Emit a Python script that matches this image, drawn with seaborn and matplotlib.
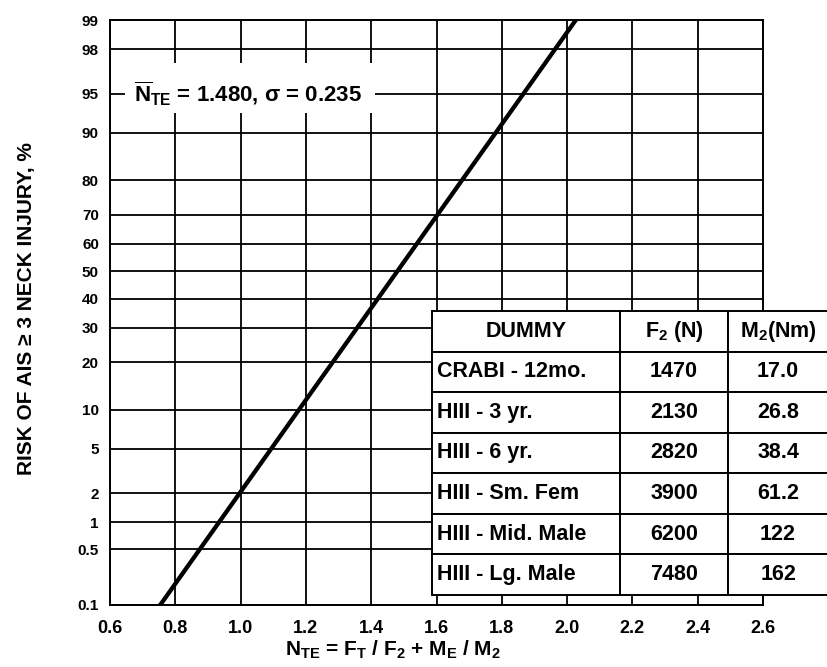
from statistics import NormalDist

import matplotlib
matplotlib.use("Agg")
import matplotlib.pyplot as plt
import matplotlib.patches as mpatches
import numpy as np
import pandas as pd
import seaborn as sns

# Normal risk model for the neck injury criterion
nte_mean = 1.480
nte_sigma = 0.235

x_ticks = [0.6, 0.8, 1.0, 1.2, 1.4, 1.6, 1.8, 2.0, 2.2, 2.4, 2.6]
x_tick_labels = ["0.6", "0.8", "1.0", "1.2", "1.4", "1.6", "1.8", "2.0", "2.2", "2.4", "2.6"]
risk_ticks = [0.1, 0.5, 1, 2, 5, 10, 20, 30, 40, 50, 60, 70, 80, 90, 95, 98, 99]
risk_tick_labels = ["0.1", "0.5", "1", "2", "5", "10", "20", "30", "40", "50",
                    "60", "70", "80", "90", "95", "98", "99"]

# Critical intercept values per dummy
dummies = ["CRABI - 12mo.", "HIII - 3 yr.", "HIII - 6 yr.", "HIII - Sm. Fem",
           "HIII - Mid. Male", "HIII - Lg. Male"]
f2_newton = ["1470", "2130", "2820", "3900", "6200", "7480"]
m2_newton_m = ["17.0", "26.8", "38.4", "61.2", "122", "162"]
table_headers = ["DUMMY", r"$\mathrm{F_2}$ (N)", r"$\mathrm{M_2}$(Nm)"]

sns.set_theme(style="white")
plt.rcParams["font.family"] = ["Liberation Sans", "DejaVu Sans"]
plt.rcParams["font.weight"] = "bold"
plt.rcParams["mathtext.fontset"] = "custom"
for key in ("rm", "it", "bf", "sf"):
    plt.rcParams[f"mathtext.{key}"] = "Liberation Sans:bold"

_std_normal = NormalDist()
_ppf = np.vectorize(_std_normal.inv_cdf, otypes=[float])
_cdf = np.vectorize(_std_normal.cdf, otypes=[float])


def probit(p):
    p = np.clip(np.asarray(p, dtype=float) / 100.0, 1e-12, 1 - 1e-12)
    return _ppf(p)


def inv_probit(z):
    return 100.0 * _cdf(np.asarray(z, dtype=float))


risk_model = NormalDist(nte_mean, nte_sigma)
nte = np.linspace(0.6, 2.6, 81)
curve = pd.DataFrame({"nte": nte, "risk": [100.0 * risk_model.cdf(v) for v in nte]})

fig = plt.figure(figsize=(8.28, 6.67), dpi=100)
ax = fig.add_axes([110 / 828, 1 - 605 / 667, 653 / 828, 585 / 667])
ax.set_yscale("function", functions=(probit, inv_probit))

sns.lineplot(data=curve, x="nte", y="risk", ax=ax, color="black", lw=3.1, zorder=4)

ax.set_xlim(0.6, 2.6)
ax.set_ylim(0.1, 99)
ax.set_xticks(x_ticks)
ax.set_xticklabels(x_tick_labels, fontsize=13, fontweight="bold")
ax.set_yticks(risk_ticks)
ax.set_yticklabels(risk_tick_labels, fontsize=11, fontweight="bold")
ax.minorticks_off()
ax.tick_params(axis="x", length=0, pad=11, colors="black")
ax.tick_params(axis="y", length=0, pad=8, colors="black")
ax.set_axisbelow(True)
ax.grid(True, color="black", lw=1.3)
for spine in ax.spines.values():
    spine.set_color("black")
    spine.set_linewidth(1.4)

ax.set_ylabel("RISK OF AIS \u2265 3 NECK INJURY, %", fontsize=15, fontweight="bold", color="black")
ax.yaxis.set_label_coords(-0.113, 0.506)
ax.set_xlabel(r"$\mathrm{N_{TE}}$ = $\mathrm{F_T}$ / $\mathrm{F_2}$ + $\mathrm{M_E}$ / $\mathrm{M_2}$",
              fontsize=15, fontweight="bold", color="black")
ax.xaxis.set_label_coords(0.433, -0.058)

# Parameter annotation on a white patch over the grid
ax.add_patch(mpatches.Rectangle((0.023, 0.841), 0.383, 0.086, transform=ax.transAxes,
                                facecolor="white", edgecolor="none", zorder=3))
ax.text(0.036, 95, r"$\overline{\mathrm{N}}_{\mathrm{TE}}$ = 1.480, " + "\u03c3 = 0.235",
        transform=ax.get_yaxis_transform(), ha="left", va="center",
        fontsize=16, fontweight="bold", color="black", zorder=4)

# Table of dummy-specific critical values
rows = [list(r) for r in zip(dummies, f2_newton, m2_newton_m)]
tbl = ax.table(cellText=rows, colLabels=table_headers, cellLoc="center",
               colWidths=[0.475, 0.273, 0.252],
               bbox=[0.493, 0.0171, 0.6065, 0.4855], zorder=6)
tbl.auto_set_font_size(False)
tbl.set_fontsize(15.5)
for (r, c), cell in tbl.get_celld().items():
    cell.set_facecolor("white")
    cell.set_edgecolor("black")
    cell.set_linewidth(1.4)
    cell.set_clip_on(False)
    cell.get_text().set_fontweight("bold")
    cell.get_text().set_color("black")
    if c == 0 and r > 0:
        cell.get_text().set_ha("left")
        cell._loc = "left"
        cell.PAD = 0.025
tbl.set_clip_on(False)

fig.savefig("out.png", dpi=100)
